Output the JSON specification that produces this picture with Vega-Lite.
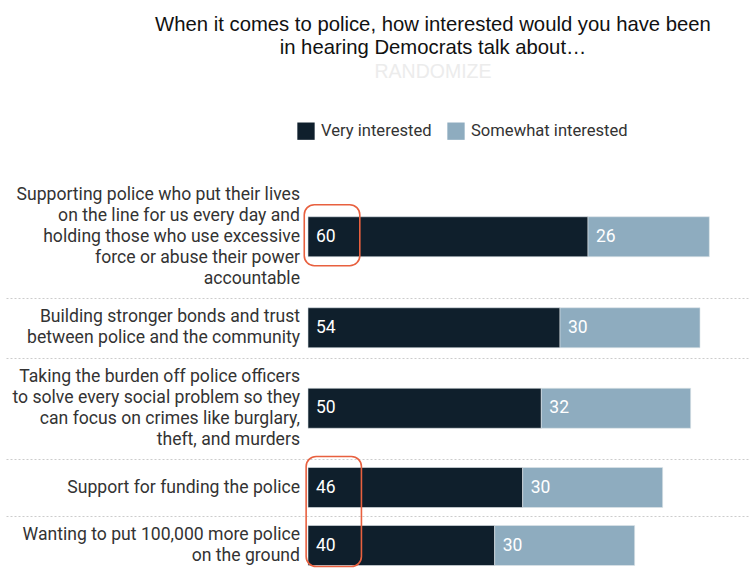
{
  "$schema": "https://vega.github.io/schema/vega-lite/v6.json",
  "padding": {"left": 6, "right": 0, "top": 14, "bottom": 0},
  "spacing": 0,
  "bounds": "flush",
  "title": {
    "text": ["When it comes to police, how interested would you have been", "in hearing Democrats talk about…"],
    "subtitle": "RANDOMIZE",
    "anchor": "middle",
    "frame": "group",
    "dx": 55,
    "font": "Liberation Sans",
    "fontSize": 20.3,
    "fontWeight": "normal",
    "color": "#111111",
    "lineHeight": 23.5,
    "subtitleFont": "Liberation Sans",
    "subtitleFontSize": 19.5,
    "subtitleColor": "#ececec",
    "subtitlePadding": 4,
    "offset": 41
  },
  "datasets": {
    "rows": [
      {"item": 1, "label": "Supporting police who put their lives\non the line for us every day and\nholding those who use excessive\nforce or abuse their power\naccountable", "group": "Very interested", "value": 60},
      {"item": 1, "label": "Supporting police who put their lives\non the line for us every day and\nholding those who use excessive\nforce or abuse their power\naccountable", "group": "Somewhat interested", "value": 26},
      {"item": 2, "label": "Building stronger bonds and trust\nbetween police and the community", "group": "Very interested", "value": 54},
      {"item": 2, "label": "Building stronger bonds and trust\nbetween police and the community", "group": "Somewhat interested", "value": 30},
      {"item": 3, "label": "Taking the burden off police officers\nto solve every social problem so they\ncan focus on crimes like burglary,\ntheft, and murders", "group": "Very interested", "value": 50},
      {"item": 3, "label": "Taking the burden off police officers\nto solve every social problem so they\ncan focus on crimes like burglary,\ntheft, and murders", "group": "Somewhat interested", "value": 32},
      {"item": 4, "label": "Support for funding the police", "group": "Very interested", "value": 46},
      {"item": 4, "label": "Support for funding the police", "group": "Somewhat interested", "value": 30},
      {"item": 5, "label": "Wanting to put 100,000 more police\non the ground", "group": "Very interested", "value": 40},
      {"item": 5, "label": "Wanting to put 100,000 more police\non the ground", "group": "Somewhat interested", "value": 30}
    ]
  },
  "data": {"name": "rows"},
  "vconcat": [
    {
      "width": 744, "height": 121.5,
      "transform": [
        {"filter": "datum.item == 1"},
        {"stack": "value", "groupby": ["item"], "sort": [{"field": "group", "order": "descending"}], "as": ["v0", "v1"]}
      ],
      "encoding": {"y": {"field": "item", "type": "nominal", "axis": null}},
      "layer": [
        {
          "mark": {"type": "bar", "height": 40, "stroke": "#dfe6ea", "strokeWidth": 0.6},
          "encoding": {
            "x": {"field": "v0", "type": "quantitative", "scale": {"domain": [-64.71, 94.71], "nice": false, "zero": false}, "axis": null},
            "x2": {"field": "v1"},
            "color": {"field": "group", "type": "nominal", "scale": {"domain": ["Very interested", "Somewhat interested"], "range": ["#0f1f2c", "#8eacbf"]}, "legend": {"orient": "none", "legendX": 291, "legendY": -54, "direction": "horizontal", "title": null}}
          }
        },
        {
          "mark": {"type": "text", "align": "left", "baseline": "middle", "dx": 8, "color": "white", "font": "Roboto", "fontSize": 17.5},
          "encoding": {"x": {"field": "v0", "type": "quantitative"}, "text": {"field": "value", "type": "quantitative"}}
        },
        {
          "transform": [{"filter": "datum.group == 'Very interested'"}],
          "mark": {"type": "text", "align": "right", "baseline": "middle", "dx": -8, "dy": -42, "lineBreak": "\n", "lineHeight": 21, "color": "#333333", "font": "Roboto", "fontSize": 17.6},
          "encoding": {"x": {"datum": 0}, "text": {"field": "label", "type": "nominal"}}
        },
        {
          "transform": [{"filter": "datum.group == 'Very interested'"}],
          "mark": {"type": "bar", "height": 61, "cornerRadius": 10, "fillOpacity": 0, "stroke": "#e8603f", "strokeWidth": 1.6},
          "encoding": {"x": {"datum": -0.8}, "x2": {"datum": 11.1}, "yOffset": {"value": 53.1}}
        }
      ]
    },
    {
      "width": 744, "height": 59.5,
      "transform": [
        {"filter": "datum.item == 2"},
        {"stack": "value", "groupby": ["item"], "sort": [{"field": "group", "order": "descending"}], "as": ["v0", "v1"]}
      ],
      "encoding": {"y": {"field": "item", "type": "nominal", "axis": null}},
      "layer": [
        {
          "mark": {"type": "bar", "height": 40, "stroke": "#dfe6ea", "strokeWidth": 0.6},
          "encoding": {
            "x": {"field": "v0", "type": "quantitative", "scale": {"domain": [-64.71, 94.71], "nice": false, "zero": false}, "axis": {"orient": "top", "domain": true, "domainColor": "#cccccc", "domainDash": [2, 2], "domainWidth": 1, "labels": false, "ticks": false, "grid": false, "title": null}},
            "x2": {"field": "v1"},
            "color": {"field": "group", "type": "nominal", "scale": {"domain": ["Very interested", "Somewhat interested"], "range": ["#0f1f2c", "#8eacbf"]}, "legend": {"orient": "none", "legendX": 291, "legendY": -54, "direction": "horizontal", "title": null}}
          }
        },
        {
          "mark": {"type": "text", "align": "left", "baseline": "middle", "dx": 8, "color": "white", "font": "Roboto", "fontSize": 17.5},
          "encoding": {"x": {"field": "v0", "type": "quantitative"}, "text": {"field": "value", "type": "quantitative"}}
        },
        {
          "transform": [{"filter": "datum.group == 'Very interested'"}],
          "mark": {"type": "text", "align": "right", "baseline": "middle", "dx": -8, "dy": -10.5, "lineBreak": "\n", "lineHeight": 21, "color": "#333333", "font": "Roboto", "fontSize": 17.6},
          "encoding": {"x": {"datum": 0}, "text": {"field": "label", "type": "nominal"}}
        }
      ]
    },
    {
      "width": 744, "height": 100.5,
      "transform": [
        {"filter": "datum.item == 3"},
        {"stack": "value", "groupby": ["item"], "sort": [{"field": "group", "order": "descending"}], "as": ["v0", "v1"]}
      ],
      "encoding": {"y": {"field": "item", "type": "nominal", "axis": null}},
      "layer": [
        {
          "mark": {"type": "bar", "height": 40, "stroke": "#dfe6ea", "strokeWidth": 0.6},
          "encoding": {
            "x": {"field": "v0", "type": "quantitative", "scale": {"domain": [-64.71, 94.71], "nice": false, "zero": false}, "axis": {"orient": "top", "domain": true, "domainColor": "#cccccc", "domainDash": [2, 2], "domainWidth": 1, "labels": false, "ticks": false, "grid": false, "title": null}},
            "x2": {"field": "v1"},
            "color": {"field": "group", "type": "nominal", "scale": {"domain": ["Very interested", "Somewhat interested"], "range": ["#0f1f2c", "#8eacbf"]}, "legend": {"orient": "none", "legendX": 291, "legendY": -54, "direction": "horizontal", "title": null}}
          }
        },
        {
          "mark": {"type": "text", "align": "left", "baseline": "middle", "dx": 8, "color": "white", "font": "Roboto", "fontSize": 17.5},
          "encoding": {"x": {"field": "v0", "type": "quantitative"}, "text": {"field": "value", "type": "quantitative"}}
        },
        {
          "transform": [{"filter": "datum.group == 'Very interested'"}],
          "mark": {"type": "text", "align": "right", "baseline": "middle", "dx": -8, "dy": -31.5, "lineBreak": "\n", "lineHeight": 21, "color": "#333333", "font": "Roboto", "fontSize": 17.6},
          "encoding": {"x": {"datum": 0}, "text": {"field": "label", "type": "nominal"}}
        }
      ]
    },
    {
      "width": 744, "height": 57,
      "transform": [
        {"filter": "datum.item == 4"},
        {"stack": "value", "groupby": ["item"], "sort": [{"field": "group", "order": "descending"}], "as": ["v0", "v1"]}
      ],
      "encoding": {"y": {"field": "item", "type": "nominal", "axis": null}},
      "layer": [
        {
          "mark": {"type": "bar", "height": 40, "stroke": "#dfe6ea", "strokeWidth": 0.6},
          "encoding": {
            "x": {"field": "v0", "type": "quantitative", "scale": {"domain": [-64.71, 94.71], "nice": false, "zero": false}, "axis": {"orient": "top", "domain": true, "domainColor": "#cccccc", "domainDash": [2, 2], "domainWidth": 1, "labels": false, "ticks": false, "grid": false, "title": null}},
            "x2": {"field": "v1"},
            "color": {"field": "group", "type": "nominal", "scale": {"domain": ["Very interested", "Somewhat interested"], "range": ["#0f1f2c", "#8eacbf"]}, "legend": {"orient": "none", "legendX": 291, "legendY": -54, "direction": "horizontal", "title": null}}
          }
        },
        {
          "mark": {"type": "text", "align": "left", "baseline": "middle", "dx": 8, "color": "white", "font": "Roboto", "fontSize": 17.5},
          "encoding": {"x": {"field": "v0", "type": "quantitative"}, "text": {"field": "value", "type": "quantitative"}}
        },
        {
          "transform": [{"filter": "datum.group == 'Very interested'"}],
          "mark": {"type": "text", "align": "right", "baseline": "middle", "dx": -8, "lineBreak": "\n", "lineHeight": 21, "color": "#333333", "font": "Roboto", "fontSize": 17.6},
          "encoding": {"x": {"datum": 0}, "text": {"field": "label", "type": "nominal"}}
        }
      ]
    },
    {
      "width": 744, "height": 59,
      "transform": [
        {"filter": "datum.item == 5"},
        {"stack": "value", "groupby": ["item"], "sort": [{"field": "group", "order": "descending"}], "as": ["v0", "v1"]}
      ],
      "encoding": {"y": {"field": "item", "type": "nominal", "axis": null}},
      "layer": [
        {
          "mark": {"type": "bar", "height": 40, "stroke": "#dfe6ea", "strokeWidth": 0.6},
          "encoding": {
            "x": {"field": "v0", "type": "quantitative", "scale": {"domain": [-64.71, 94.71], "nice": false, "zero": false}, "axis": {"orient": "top", "domain": true, "domainColor": "#cccccc", "domainDash": [2, 2], "domainWidth": 1, "labels": false, "ticks": false, "grid": false, "title": null}},
            "x2": {"field": "v1"},
            "color": {"field": "group", "type": "nominal", "scale": {"domain": ["Very interested", "Somewhat interested"], "range": ["#0f1f2c", "#8eacbf"]}, "legend": {"orient": "none", "legendX": 291, "legendY": -54, "direction": "horizontal", "title": null}}
          }
        },
        {
          "mark": {"type": "text", "align": "left", "baseline": "middle", "dx": 8, "color": "white", "font": "Roboto", "fontSize": 17.5},
          "encoding": {"x": {"field": "v0", "type": "quantitative"}, "text": {"field": "value", "type": "quantitative"}}
        },
        {
          "transform": [{"filter": "datum.group == 'Very interested'"}],
          "mark": {"type": "text", "align": "right", "baseline": "middle", "dx": -8, "dy": -10.5, "lineBreak": "\n", "lineHeight": 21, "color": "#333333", "font": "Roboto", "fontSize": 17.6},
          "encoding": {"x": {"datum": 0}, "text": {"field": "label", "type": "nominal"}}
        },
        {
          "transform": [{"filter": "datum.group == 'Very interested'"}],
          "mark": {"type": "bar", "height": 110, "cornerRadius": 10, "fillOpacity": 0, "stroke": "#e8603f", "strokeWidth": 1.6},
          "encoding": {"x": {"datum": -0.4}, "x2": {"datum": 11.45}, "yOffset": {"value": -7.45}}
        }
      ]
    }
  ],
  "config": {
    "view": {"stroke": null},
    "legend": {
      "symbolType": "square",
      "symbolSize": 300,
      "symbolStrokeWidth": 0,
      "symbolOpacity": 1,
      "labelFont": "Roboto",
      "labelFontSize": 16.6,
      "labelColor": "#333333",
      "labelOffset": 6,
      "columnPadding": 15,
      "labelLimit": 300
    }
  }
}
